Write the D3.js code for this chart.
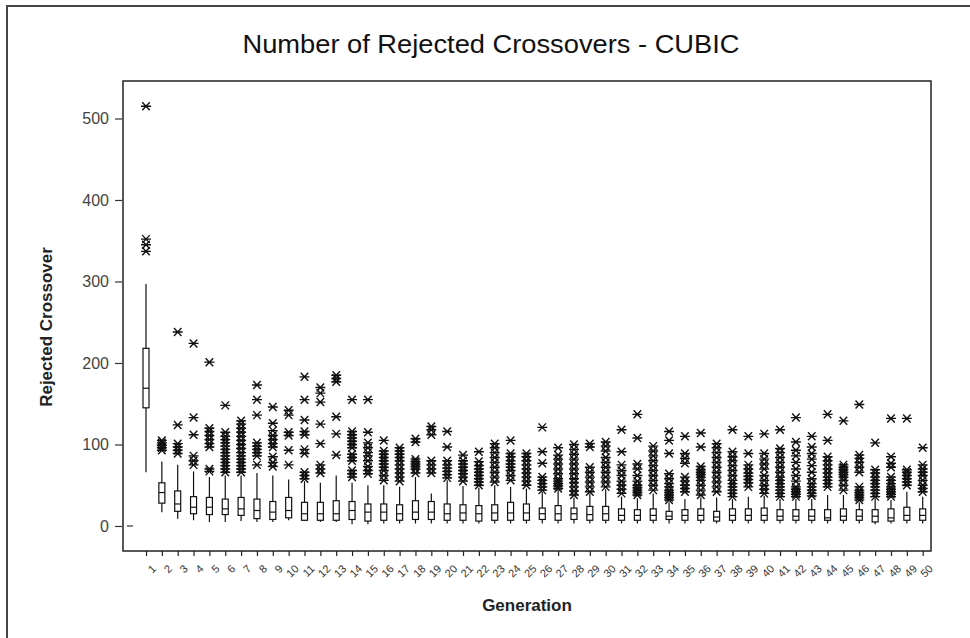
<!DOCTYPE html>
<html>
<head>
<meta charset="utf-8">
<script src="https://cdn.jsdelivr.net/npm/d3@7"></script>
<style>
  html, body { margin: 0; padding: 0; background: #fff; }
  svg { display: block; }
</style>
</head>
<body>
<svg id="chart" width="970" height="638"></svg>
<script>
const generations = d3.range(1, 51).map(String);
const q1Values = [145,28,18,15,14,14,13,9,8,10, 7,7,7,8,6,7,7,8,8,7, 7,6,7,7,7,8,7,8,7,7, 7,7,7,8,7,7,6,7,7,7, 7,7,7,7,7,7,5,6,7,7];
const medianValues = [169,41,27,23,23,21,21,19,17,19, 15,15,15,19,17,17,15,17,17,15, 16,15,16,16,16,15,15,15,14,15, 13,13,13,12,13,13,11,13,13,13, 12,12,12,10,12,12,12,10,13,13];
const q3Values = [218,53,43,36,35,33,35,33,30,35, 29,29,31,30,27,27,26,31,30,27, 26,25,26,29,27,22,25,22,24,24, 21,20,21,18,20,21,18,21,21,22, 20,20,20,20,21,20,20,21,23,21];
const whiskerLow = [66,17,9,7,5,5,6,5,5,7, 6,5,5,2,2,3,3,3,3,3, 3,3,3,3,3,3,3,3,3,3, 3,3,3,3,3,3,3,3,3,3, 3,3,3,3,3,3,2,3,3,3];
const whiskerHigh = [297,79,75,67,60,62,62,65,62,57, 55,53,62,53,50,50,48,60,40,56, 49,47,50,48,46,42,44,35,40,45, 36,34,40,29,33,35,35,33,36,37, 33,33,33,38,38,29,34,32,42,36];
const outliers = [
  [337,345,352,515],
  [93,96,99,102,105],
  [89,93,97,101,124,238],
  [75,80,86,112,133,224],
  [67,70,97,101,106,111,116,120,201],
  [66,70,74,78,82,86,90,94,98,102,106,110,115,148],
  [66,70,74,78,82,86,90,95,100,105,110,115,120,125,129],
  [75,86,90,94,98,102,136,155,173],
  [73,78,85,97,101,106,111,117,126,146],
  [75,93,111,115,136,142],
  [58,62,66,89,94,112,116,130,155,183],
  [65,70,75,101,125,152,163,170],
  [87,113,134,177,181,185],
  [60,64,68,80,84,88,96,100,104,108,112,116,155],
  [64,68,73,80,86,90,96,102,115,155],
  [56,62,68,72,76,80,84,88,92,105],
  [55,60,65,70,75,80,84,88,92,96],
  [65,70,73,76,79,82,103,107],
  [65,70,75,80,112,118,122],
  [59,63,67,71,75,80,97,116],
  [55,60,64,68,72,76,80,87],
  [50,54,58,62,66,70,74,79,91],
  [54,60,66,72,78,84,90,96,101],
  [56,62,68,72,76,80,85,89,105],
  [50,55,60,65,70,75,80,85,89],
  [44,48,52,56,60,77,91,121],
  [46,49,52,55,58,64,70,76,82,87,96],
  [38,43,48,53,58,64,70,76,82,88,94,100],
  [42,48,54,60,66,72,97,101],
  [48,54,60,66,72,78,84,92,98,103],
  [40,45,50,55,62,68,75,91,118],
  [38,41,44,47,50,55,62,70,76,108,137],
  [44,50,56,62,68,74,80,86,92,98],
  [32,35,38,41,44,48,52,58,64,89,105,116],
  [42,46,50,55,60,77,83,89,110],
  [38,44,50,56,60,63,66,69,73,97,114],
  [42,48,54,60,66,72,78,84,90,96,101],
  [36,40,44,48,52,56,62,68,74,80,85,91,118],
  [48,53,57,61,65,70,75,89,110],
  [40,45,50,56,62,70,76,82,89,113],
  [36,40,44,48,52,56,60,66,72,78,84,90,95,118],
  [36,39,42,45,48,55,62,70,78,86,93,103,133],
  [37,40,44,48,52,58,66,74,82,89,97,110],
  [48,52,56,60,65,70,75,80,85,105,137],
  [44,50,56,60,63,66,69,72,75,129],
  [32,35,38,41,44,48,66,72,78,83,87,149],
  [36,40,44,48,52,56,60,65,69,102],
  [36,39,42,45,48,52,56,60,72,77,85,132],
  [50,54,58,62,66,69,132],
  [42,46,50,56,62,66,70,75,96]
];
const yTickValues = [0, 100, 200, 300, 400, 500];
const titleText = "Number of Rejected Crossovers - CUBIC";
const xTitle = "Generation";
const yTitle = "Rejected Crossover";

const svg = d3.select("#chart");
const plot = {left: 123, top: 81, right: 931, bottom: 551};

// outer frame (top and left edges visible)
svg.append("path")
  .attr("d", "M7,640 V6 H975")
  .attr("fill", "none").attr("stroke", "#444").attr("stroke-width", 2);

const x = d3.scalePoint().domain(generations).range([146, 922.7]);
const y = d3.scaleLinear().domain([-30.7, 546]).range([plot.bottom, plot.top]);

// plot frame
svg.append("rect")
  .attr("x", plot.left).attr("y", plot.top)
  .attr("width", plot.right - plot.left).attr("height", plot.bottom - plot.top)
  .attr("fill", "#fff").attr("stroke", "#222").attr("stroke-width", 1.5);

// title
svg.append("text")
  .attr("x", 491).attr("y", 53)
  .attr("text-anchor", "middle")
  .attr("font-family", "'Liberation Sans Narrow', 'Liberation Sans', sans-serif")
  .attr("font-size", 25)
  .attr("textLength", 497).attr("lengthAdjust", "spacingAndGlyphs")
  .attr("fill", "#111")
  .text(titleText);

// y axis
const yAxis = d3.axisLeft(y).tickValues(yTickValues).tickSize(7).tickPadding(6);
const gy = svg.append("g").attr("transform", `translate(${plot.left - 1},0)`).call(yAxis);
gy.select(".domain").remove();
gy.selectAll(".tick line").attr("stroke", "#333").attr("stroke-width", 1.2);
gy.selectAll(".tick text")
  .attr("font-family", "'Liberation Sans', sans-serif")
  .attr("font-size", 16).attr("fill", "#444");
// small inner dash at zero
svg.append("line")
  .attr("x1", plot.left + 4).attr("x2", plot.left + 10)
  .attr("y1", y(0)).attr("y2", y(0))
  .attr("stroke", "#333").attr("stroke-width", 1.2);

// x axis
const xAxis = d3.axisBottom(x).tickSize(5).tickPadding(4);
const gx = svg.append("g").attr("transform", `translate(0,${plot.bottom})`).call(xAxis);
gx.select(".domain").remove();
gx.selectAll(".tick line").attr("stroke", "#222").attr("stroke-width", 1.2);
gx.selectAll(".tick text")
  .attr("font-family", "'Liberation Sans', sans-serif")
  .attr("font-size", 11).attr("fill", "#333")
  .attr("text-anchor", "end")
  .attr("dy", "0")
  .attr("transform", "translate(4,12) rotate(-45)");

// axis titles
svg.append("text")
  .attr("x", (plot.left + plot.right) / 2).attr("y", 611)
  .attr("text-anchor", "middle")
  .attr("font-family", "'Liberation Sans', sans-serif")
  .attr("font-weight", "bold").attr("font-size", 17).attr("fill", "#222")
  .text(xTitle);
svg.append("text")
  .attr("transform", `translate(52,${(plot.top + plot.bottom) / 2 + 11}) rotate(-90)`)
  .attr("text-anchor", "middle")
  .attr("font-family", "'Liberation Sans', sans-serif")
  .attr("font-weight", "bold").attr("font-size", 17).attr("fill", "#222")
  .text(yTitle);

// boxes
const boxW = 6;
const data = generations.map((g, i) => ({
  g, q1: q1Values[i], med: medianValues[i], q3: q3Values[i],
  lo: whiskerLow[i], hi: whiskerHigh[i], out: outliers[i]
}));
const gb = svg.append("g").attr("stroke", "#111").attr("stroke-width", 1.2);
const box = gb.selectAll("g.box").data(data).join("g").attr("class", "box");
box.append("line")
  .attr("x1", d => x(d.g)).attr("x2", d => x(d.g))
  .attr("y1", d => y(d.hi)).attr("y2", d => y(d.q3));
box.append("line")
  .attr("x1", d => x(d.g)).attr("x2", d => x(d.g))
  .attr("y1", d => y(d.q1)).attr("y2", d => y(d.lo));
box.append("rect")
  .attr("x", d => x(d.g) - boxW / 2).attr("width", boxW)
  .attr("y", d => y(d.q3)).attr("height", d => y(d.q1) - y(d.q3))
  .attr("fill", "#fff");
box.append("line")
  .attr("x1", d => x(d.g) - boxW / 2).attr("x2", d => x(d.g) + boxW / 2)
  .attr("y1", d => y(d.med)).attr("y2", d => y(d.med));

// outliers as asterisks
const r = 5;
const starPath = `M${-r},0H${r}M${-r*0.75},${-r*0.8}L${r*0.75},${r*0.8}M${-r*0.75},${r*0.8}L${r*0.75},${-r*0.8}`;
const pts = data.flatMap(d => d.out.map(v => ({g: d.g, v})));
svg.append("g").selectAll("path").data(pts).join("path")
  .attr("d", starPath)
  .attr("transform", d => `translate(${x(d.g)},${y(d.v)})`)
  .attr("fill", "none").attr("stroke", "#111").attr("stroke-width", 1.4);
</script>
</body>
</html>
